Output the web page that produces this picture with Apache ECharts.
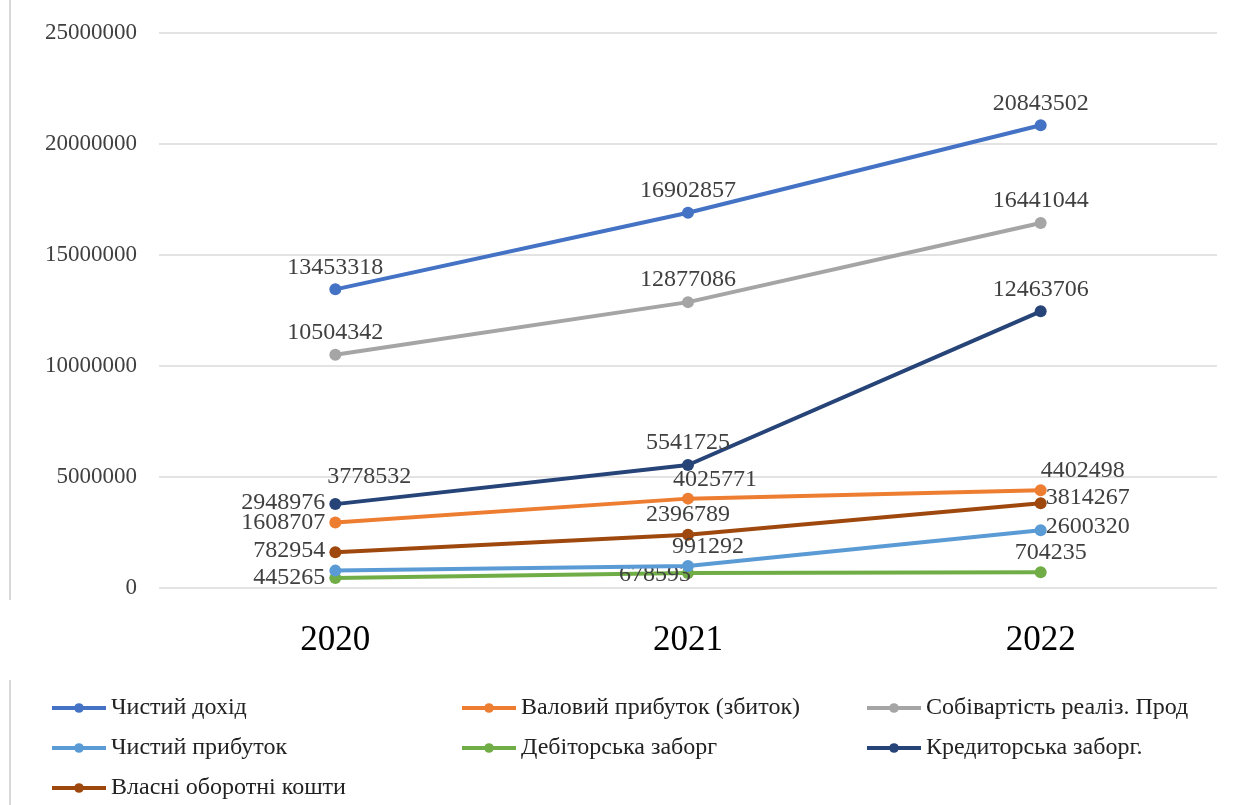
<!DOCTYPE html>
<html><head><meta charset="utf-8">
<script src="https://cdn.jsdelivr.net/npm/echarts@6/dist/echarts.min.js"></script>
<style>html,body{margin:0;padding:0;background:#fff}#c{width:1251px;height:805px}</style>
</head><body><div id="c"></div>
<script>
const years = ['2020','2021','2022'];
const yTicks = [0, 5000000, 10000000, 15000000, 20000000, 25000000];
const netIncome   = [13453318, 16902857, 20843502]; // Чистий дохід
const grossProfit = [2948976, 4025771, 4402498];    // Валовий прибуток (збиток)
const costSales   = [10504342, 12877086, 16441044]; // Собівартість реаліз. Прод
const netProfit   = [782954, 991292, 2600320];      // Чистий прибуток
const receivables = [445265, 678593, 704235];       // Дебіторська заборг
const payables    = [3778532, 5541725, 12463706];   // Кредиторська заборг.
const ownCapital  = [1608707, 2396789, 3814267];    // Власні оборотні кошти
const names = ['Чистий дохід','Валовий прибуток (збиток)','Собівартість реаліз. Прод','Чистий прибуток','Дебіторська заборг','Кредиторська заборг.','Власні оборотні кошти'];
const values = [netIncome, grossProfit, costSales, netProfit, receivables, payables, ownCapital];
const colors = ['#4472C4','#ED7D31','#A5A5A5','#5B9BD5','#70AD47','#264478','#9E480E'];

// label placement per series per point: [position, dx, dy]
const labelPlace = [
  [['top',0,0],['top',0,0],['top',0,0]],
  [['left',0,-20],['top',27,3],['top',42,2]],
  [['top',0,0],['top',0,0],['top',0,0]],
  [['left',0,-20],['top',20,3],['right',-5,-4]],
  [['left',0,0],['left',13,2],['top',10,2]],
  [['top',34,-5],['top',0,0],['top',0,0]],
  [['left',0,-30],['top',0,2],['right',-5,-6]]
];

const labelFont = {fontFamily:'Liberation Serif', fontSize:24, color:'#404040'};
const series = values.map((arr,i)=>({
  name: names[i], type:'line', symbol:'circle', symbolSize:12,
  lineStyle:{width:4, color:colors[i]}, itemStyle:{color:colors[i]},
  z: 10 - (i===4?5:0),
  data: arr.map((v,j)=>({value:v, label:{show:true, position:labelPlace[i][j][0], offset:[labelPlace[i][j][1],labelPlace[i][j][2]], distance:4, ...labelFont}})),
  emphasis:{disabled:true}, animation:false
}));

const legendText = {fontFamily:'Liberation Serif', fontSize:24, color:'#222'};
const mkLegend = (left, data)=>({orient:'vertical', left:left, top:691, itemWidth:54, itemHeight:12, itemGap:16,
  data:data, textStyle:legendText, selectedMode:false, lineStyle:{width:4}});

const chart = echarts.init(document.getElementById('c'), null, {renderer:'canvas'});
chart.setOption({
  backgroundColor:'#fff',
  animation:false,
  color: colors,
  grid:{left:159, right:34, top:33, bottom:217, containLabel:false},
  xAxis:{type:'category', data:years, boundaryGap:true,
    axisLine:{show:false}, axisTick:{show:false},
    axisLabel:{fontFamily:'Liberation Serif', fontSize:35, color:'#000', margin:35}},
  yAxis:{type:'value', min:yTicks[0], max:yTicks[yTicks.length-1], interval:5000000,
    axisLine:{show:false}, axisTick:{show:false},
    splitLine:{lineStyle:{color:'#e3e3e3', width:2}},
    axisLabel:{fontFamily:'Liberation Serif', fontSize:23, color:'#404040', margin:22, formatter:(v)=>String(v)}},
  legend:[
    mkLegend(45, [names[0], names[3], names[6]]),
    mkLegend(455, [names[1], names[4]]),
    mkLegend(860, [names[2], names[5]])
  ],
  graphic:[
    {type:'line', shape:{x1:10,y1:0,x2:10,y2:600}, style:{stroke:'#d9d9d9', lineWidth:2}},
    {type:'line', shape:{x1:10,y1:680,x2:10,y2:805}, style:{stroke:'#d9d9d9', lineWidth:2}}
  ],
  series: series
});
</script></body></html>
